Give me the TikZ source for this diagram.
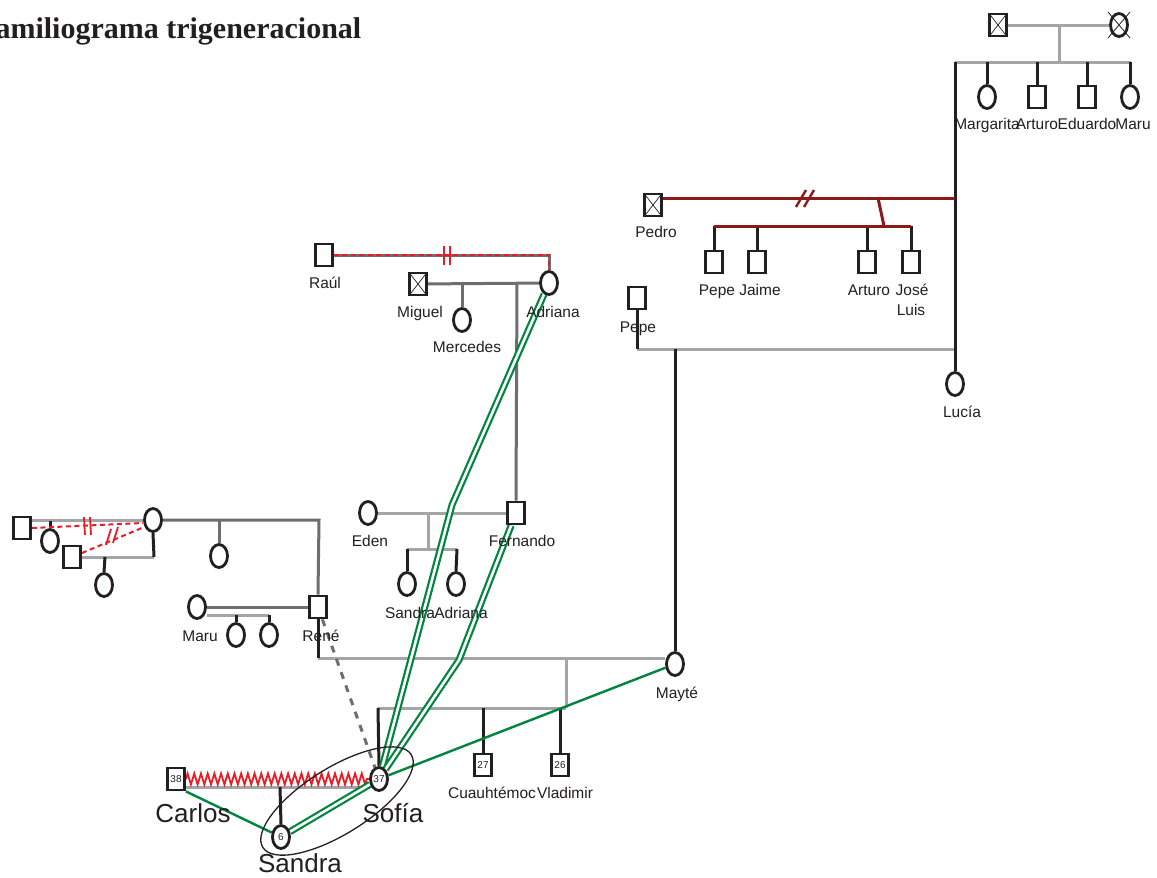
\documentclass[tikz,border=0pt]{standalone}
\usepackage{fontspec}
\setmainfont{Liberation Sans}
\newfontfamily\titlefont{Liberation Serif}
\usetikzlibrary{shapes.geometric,decorations.pathmorphing,calc}
\pgfdeclarelayer{bg}
\pgfsetlayers{bg,main}
\definecolor{blk}{HTML}{231F20}
\definecolor{gryD}{HTML}{6D6E71}
\definecolor{gryL}{HTML}{A3A5A8}
\definecolor{dred}{HTML}{8B1A1A}
\definecolor{grn}{HTML}{00853F}
\definecolor{rd}{HTML}{ED1C24}
\tikzset{
 male/.style={rectangle, draw=blk, line width=2.8pt, fill=white, minimum width=17pt, minimum height=22pt, inner sep=0pt},
 fem/.style={ellipse, draw=blk, line width=2.8pt, fill=white, minimum width=17pt, minimum height=23pt, inner sep=0pt},
 dead/.style={path picture={\draw[blk, line width=0.7pt] (path picture bounding box.north west) -- (path picture bounding box.south east) (path picture bounding box.north east) -- (path picture bounding box.south west);}},
 lbl/.style={font=\fontsize{15.5}{17}\selectfont, text=blk, inner sep=0pt, anchor=base},
 big/.style={font=\fontsize{26}{28}\selectfont, text=blk, inner sep=0pt, anchor=base},
 num/.style={font=\fontsize{10}{11}\selectfont, text=blk},
 lg/.style={draw=gryL, line width=3pt},
 dg/.style={draw=gryD, line width=3pt},
 bk/.style={draw=blk, line width=3pt},
 rl/.style={draw=dred, line width=3pt},
 rdash/.style={draw=rd, line width=2pt, dash pattern=on 5pt off 3.5pt},
 rbar/.style={draw=rd, line width=1.8pt},
 gline/.style={draw=grn, line width=2.4pt},
 gdouble/.style={draw=grn, double=white, double distance=2.6pt, line width=2.2pt},
}
\begin{document}
\begin{tikzpicture}[x=1pt,y=-1pt]
\useasboundingbox (0,0) rectangle (1157,878);

% title
\node[anchor=base west, inner sep=0pt, font=\titlefont\bfseries\fontsize{30}{32}\selectfont, text=blk] (title) at (-23,38) {Familiograma trigeneracional};

% ---------- top right family ----------
\node[male,dead] (abu) at (998,25) {};
\node[fem] (abua) at (1119,25) {};
\node[fem] (marg) at (987,97) {};
\node[male] (art1) at (1037,97) {};
\node[male] (edu) at (1087,97) {};
\node[fem] (maru1) at (1130,97) {};
\node[lbl] (lmarg) at (987,129) {Margarita};
\node[lbl] (lart1) at (1037,129) {Arturo};
\node[lbl] (ledu) at (1087,129) {Eduardo};
\node[lbl] (lmaru1) at (1133,129) {Maru};
\draw[blk, line width=0.8pt] ($(abua)+(-11,-13)$) -- ($(abua)+(11,13)$) ($(abua)+(11,-13)$) -- ($(abua)+(-11,13)$);

\node[fem] (lucia) at (955,384) {};
\node[lbl] (llucia) at (962,417) {Lucía};

% Pedro family
\node[male,dead] (pedro) at (653,205) {};
\node[lbl] (lpedro) at (656,237) {Pedro};
\node[male] (pepe1) at (714,262) {};
\node[male] (jaime) at (757,262) {};
\node[male] (art2) at (867,262) {};
\node[male] (jose) at (911,262) {};
\node[lbl] (lpepe1) at (717,295) {Pepe};
\node[lbl] (ljaime) at (760,295) {Jaime};
\node[lbl] (lart2) at (869,295) {Arturo};
\node[lbl] (ljose) at (912,295) {José};
\node[lbl] (lluis) at (911,315) {Luis};

% Pepe & Mayte
\node[male] (pepe2) at (637,298) {};
\node[lbl] (lpepe2) at (638,332) {Pepe};
\node[fem] (mayte) at (675,664) {};
\node[lbl] (lmayte) at (677,698) {Mayté};

% Raul / Adriana / Miguel
\node[male] (raul) at (324,255) {};
\node[lbl] (lraul) at (325,288) {Raúl};
\node[fem] (adr1) at (549,283) {};
\node[lbl] (ladr1) at (553,317) {Adriana};
\node[male,dead] (miguel) at (418,284) {};
\node[lbl] (lmiguel) at (420,317) {Miguel};
\node[fem] (merc) at (462,320) {};
\node[lbl] (lmerc) at (467,352) {Mercedes};

% Eden / Fernando
\node[fem] (eden) at (368,513) {};
\node[lbl] (leden) at (370,546) {Eden};
\node[male] (fern) at (516,513) {};
\node[lbl] (lfern) at (522,546) {Fernando};
\node[fem] (sand2) at (407,584) {};
\node[fem] (adr2) at (456,584) {};
\node[lbl] (lsand2) at (410,618) {Sandra};
\node[lbl] (ladr2) at (461,618) {Adriana};

% left family
\node[male] (pa) at (22,528) {};
\node[fem] (pb) at (153,520) {};
\node[fem] (pc) at (50,541) {};
\node[male] (pd) at (72,557) {};
\node[fem] (pe) at (104,585) {};
\node[fem] (pf) at (219,556) {};
\node[male] (rene) at (318,607) {};
\node[lbl] (lrene) at (321,641) {René};
\node[fem] (maru2) at (197,607) {};
\node[lbl] (lmaru2) at (200,641) {Maru};
\node[fem] (mc1) at (236,635) {};
\node[fem] (mc2) at (269,635) {};

% Mayte children
\node[fem, num] (sofia) at (379,779) {37};
\node[male, num] (cuau) at (483,765) {27};
\node[male, num] (vlad) at (560,765) {26};
\node[lbl] (lcuau) at (492,798) {Cuauhtémoc};
\node[lbl] (lvlad) at (565,798) {Vladimir};
\node[big] (lsofia) at (393,822) {Sofía};

% Carlos / Sandra
\node[male, num] (carlos) at (176,779) {38};
\node[big] (lcarlos) at (193,822) {Carlos};
\node[fem, num] (sandra) at (281,837) {6};
\node[big] (lsandra) at (300,872) {Sandra};

\node[draw=blk, line width=1.3pt, ellipse, minimum width=175pt, minimum height=66pt, rotate=32] (ell) at (337,801) {};

\begin{pgfonlayer}{bg}
\fill[white] (0,0) rectangle (1157,878);
% coordinates
\coordinate (t1) at (1059,25);
\coordinate (t2) at (1059,62);
\coordinate (sibL) at (955,62);
\coordinate (sibR) at (1131,62);
\coordinate (pr) at (955,198);
\coordinate (pk1) at (878,198);
\coordinate (pk2) at (884,226);
\coordinate (pcl) at (714,226);
\coordinate (pcr) at (911,226);
\coordinate (pp) at (637,349);
\coordinate (pq) at (955,349);
\coordinate (pm) at (675,349);
\coordinate (rr) at (549,255);
\coordinate (mj1) at (462,283);
\coordinate (mj2) at (517,283);
\coordinate (ej1) at (428,513);
\coordinate (ej2) at (428,549);
\coordinate (esl) at (407,549);
\coordinate (esr) at (457,549);
\coordinate (ab1) at (50,521);
\coordinate (bd) at (154,557);
\coordinate (de) at (105,557);
\coordinate (br) at (319,520);
\coordinate (bf) at (219,520);
\coordinate (msl) at (207,615);
\coordinate (msr) at (269,615);
\coordinate (ms1) at (236,615);
\coordinate (rm1) at (318,658);
\coordinate (rm2) at (665,658);
\coordinate (mk1) at (566,658);
\coordinate (mk2) at (566,708);
\coordinate (ksl) at (378,708);
\coordinate (kc) at (483,708);
\coordinate (kv) at (560,708);
\coordinate (cg1) at (186,787);
\coordinate (cg2) at (370,787);
\coordinate (cs) at (280,787);
\coordinate (ga1) at (452,505);
\coordinate (gf1) at (459,660);

% gray lines
\draw[lg] (abu) -- (abua);
\draw[lg] (t1) -- (t2);
\draw[lg] (sibL) -- (sibR);
\draw[lg] (pp) -- (pq);
\draw[dg] (raul.east) -- (rr) -- (adr1.north);
\draw[dg] (miguel) -- (adr1);
\draw[dg] (mj1) -- (merc.north);
\draw[dg] (mj2) -- (fern.north);
\draw[lg] (eden) -- (fern);
\draw[lg] (ej1) -- (ej2);
\draw[lg] (esl) -- (esr);
\draw[lg] (pa.east |- pb.west) -- (pb.west);
\draw[lg] (pd.east) -- (bd);
\draw[dg] (pb.east) -- (br) -- (rene.north);
\draw[dg] (bf) -- (pf.north);
\draw[dg] (maru2) -- (rene);
\draw[lg] (msl) -- (msr);
\draw[lg] (rm1) -- (rm2);
\draw[lg] (mk1) -- (mk2);
\draw[lg] (ksl) -- (mk2);
\draw[lg] (cg1) -- (cg2);

% black lines
\draw[bk] (marg.north |- sibL) -- (marg.north);
\draw[bk] (art1.north |- sibL) -- (art1.north);
\draw[bk] (edu.north |- sibL) -- (edu.north);
\draw[bk] (maru1.north |- sibL) -- (maru1.north);
\draw[bk] (sibL) -- (lucia.north);
\draw[bk] (pepe1.north |- pcl) -- (pepe1.north);
\draw[bk] (jaime.north |- pcl) -- (jaime.north);
\draw[bk] (art2.north |- pcl) -- (art2.north);
\draw[bk] (jose.north |- pcl) -- (jose.north);
\draw[bk] (pepe2.south) -- (pp);
\draw[bk] (pm) -- (mayte.north);
\draw[bk] (esl) -- (sand2.north);
\draw[bk] (esr) -- (adr2.north);
\draw[bk] (ab1) -- (pc.north);
\draw[bk] (pb.south) -- (bd);
\draw[bk] (de) -- (pe.north);
\draw[bk] (ms1) -- (mc1.north);
\draw[bk] (msr) -- (mc2.north);
\draw[bk] (rene.south) -- (rm1);
\draw[bk] (ksl) -- (sofia.north);
\draw[bk] (kc) -- (cuau.north);
\draw[bk] (kv) -- (vlad.north);
\draw[bk] (cs) -- (sandra.north);

% dark red lines (Pedro)
\draw[rl] (pedro.east |- pr) -- (pr);
\draw[rl] (pk1) -- (pk2);
\draw[rl] (pcl) -- (pcr);
\draw[draw=dred, line width=2.4pt] (796,207) -- (806,190) (804,207) -- (814,190);

% red dashed (separations)
\draw[rdash] (raul.east) -- (rr) -- (adr1.north);
\draw[rbar] (444,246) -- (444,265) (450,246) -- (450,265);
\draw[rdash] (pa.east) -- ($(pb.west)+(0,3)$);
\draw[rbar] (84,517) -- (85,535) (90,517) -- (91,535);
\draw[rdash] ($(pd.east)+(0,-4)$) -- ($(pb.west)+(1,7)$);
\draw[rbar] (106,545) -- (111,529) (113,543) -- (118,527);

% conflict zigzag
\draw[draw=rd, line width=1.8pt, decorate, decoration={zigzag, segment length=6.7pt, amplitude=5.5pt}] (carlos.east) -- (sofia.west);

% distant relation
\draw[draw=gryD, line width=3pt, dash pattern=on 7pt off 7pt] (rene) -- (sofia);

% green relations
\draw[gdouble] (adr1) -- (ga1) -- (sofia);
\draw[gdouble] (fern) -- (gf1) -- (sofia);
\draw[gline] (sofia) -- (mayte);
\draw[gline] (carlos.south east) -- (sandra);
\draw[gdouble] (sandra) -- (sofia);
\end{pgfonlayer}
\end{tikzpicture}
\end{document}
